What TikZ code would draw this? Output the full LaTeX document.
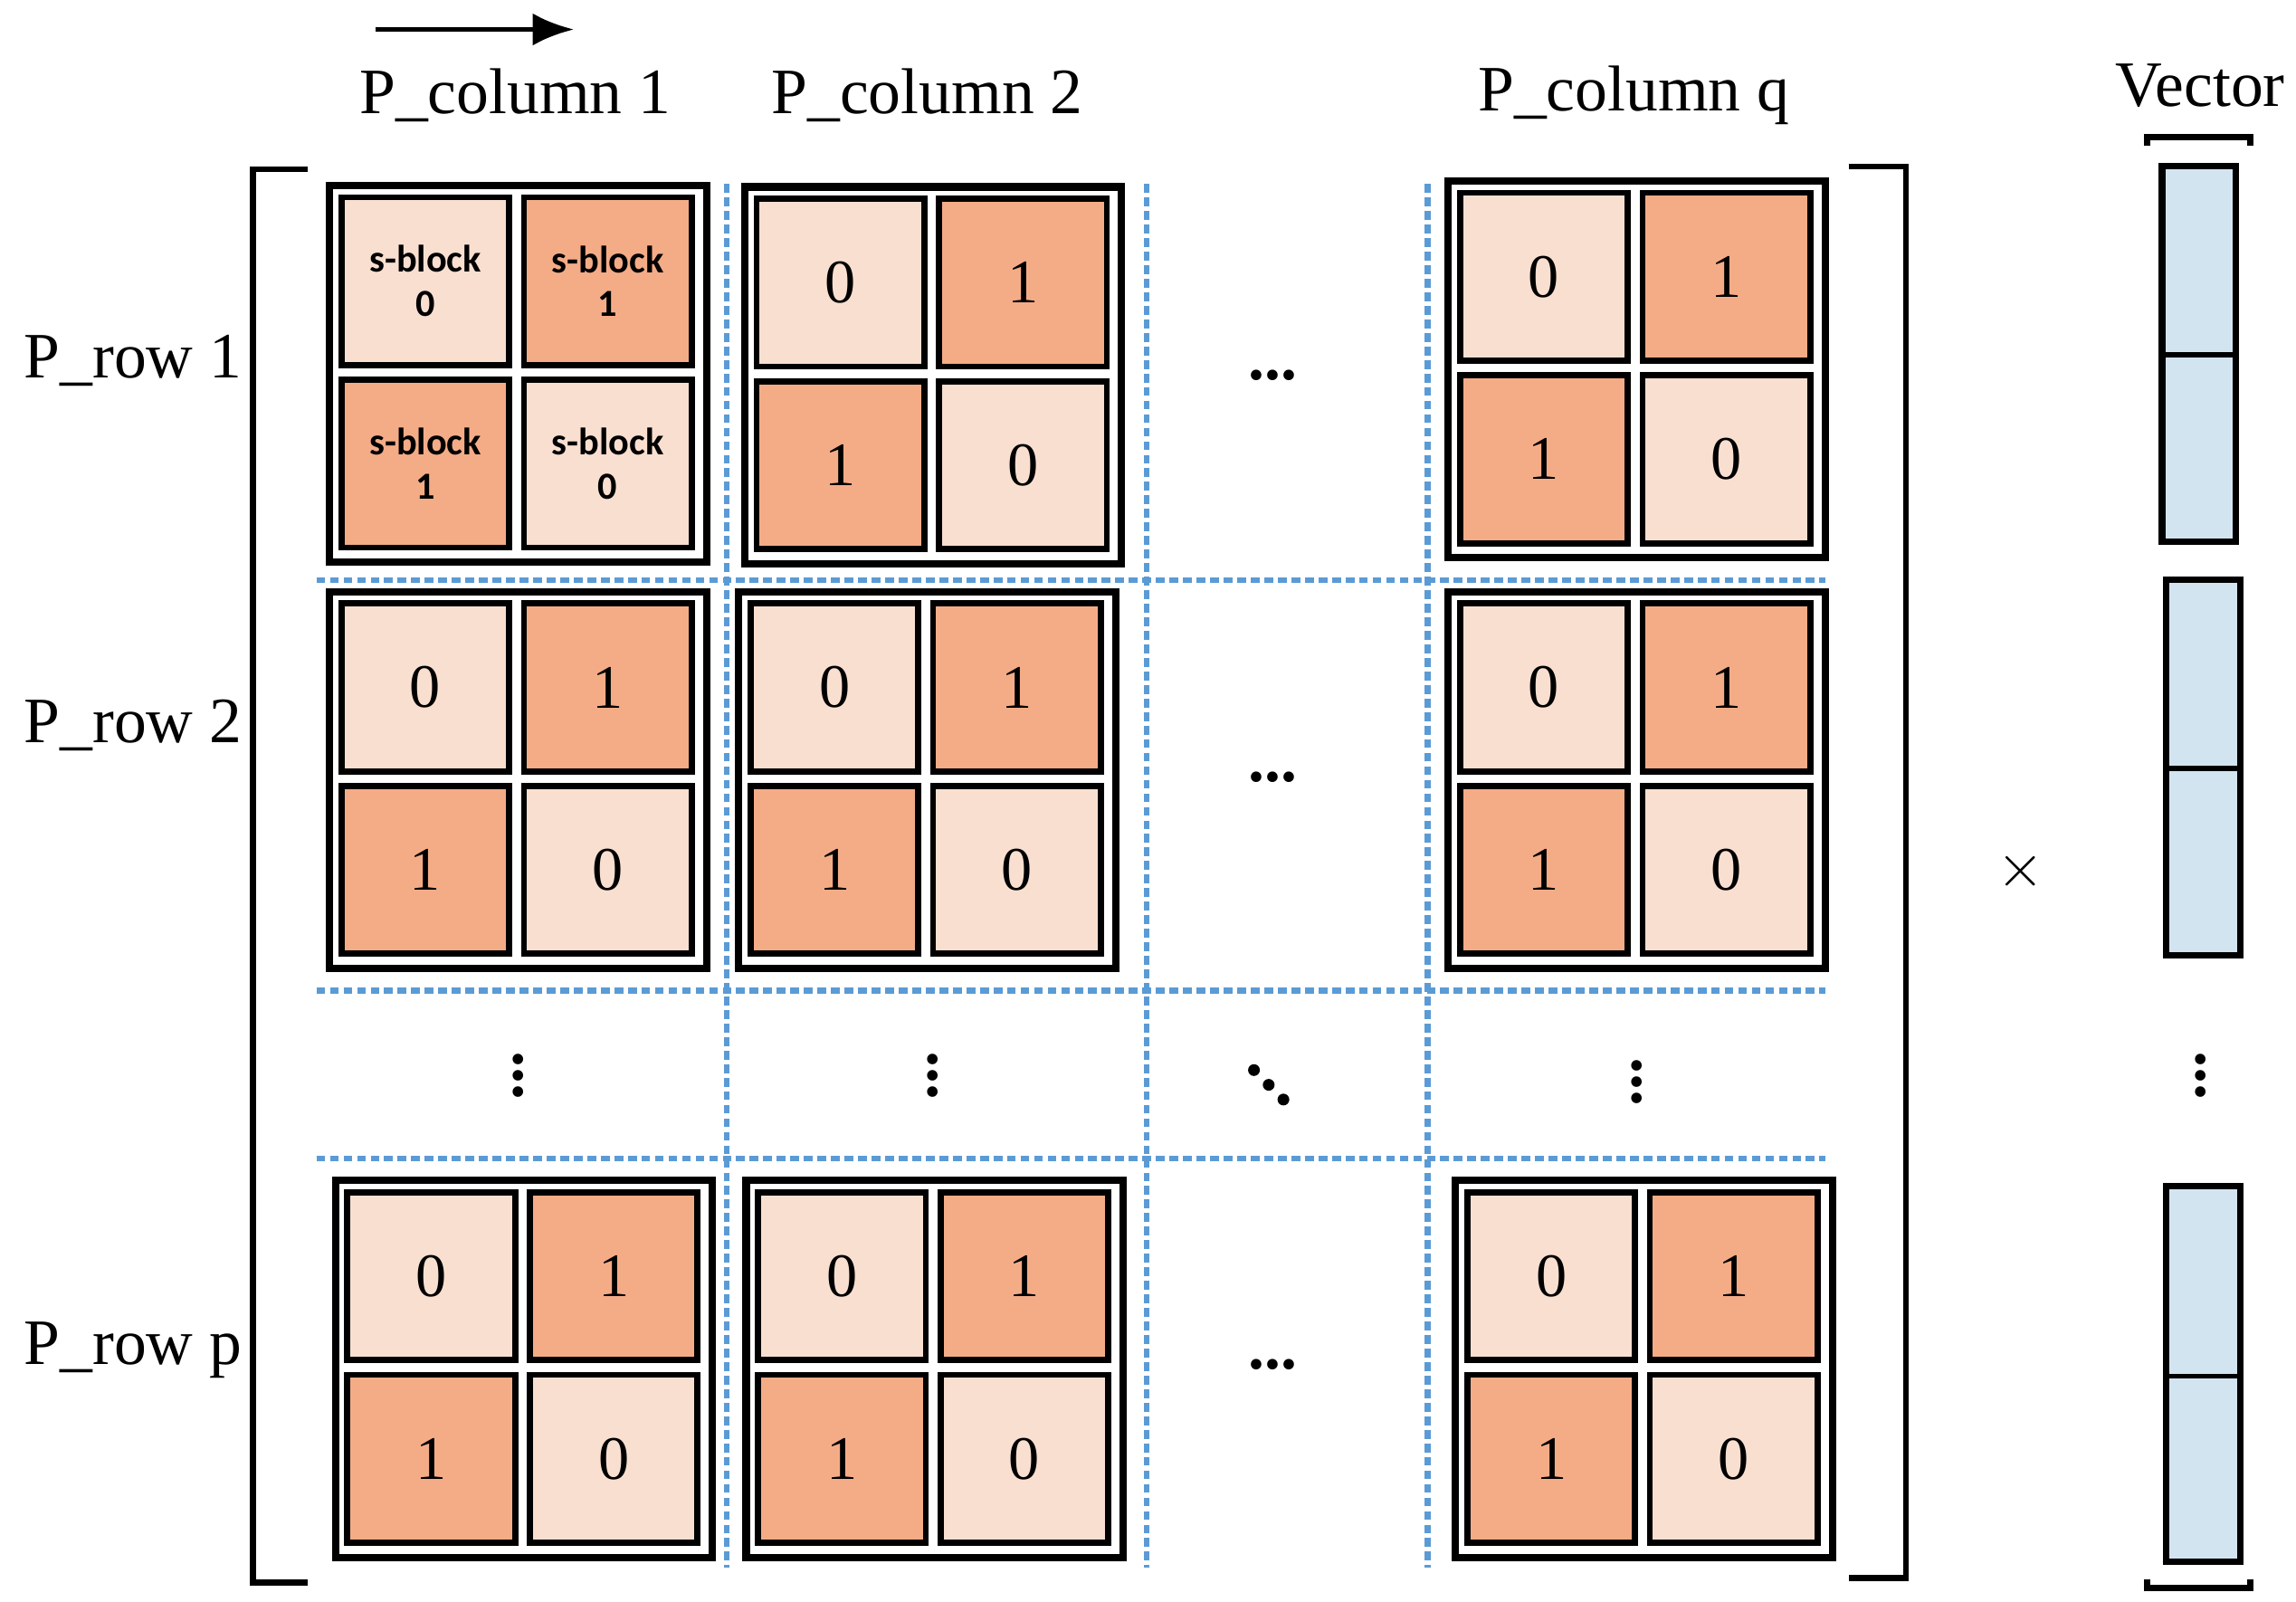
\documentclass[tikz,border=0pt]{standalone}
\usetikzlibrary{arrows.meta}
\usepackage{fontspec}
\setmainfont{Liberation Serif}
\newfontfamily\sbf{Carlito}
\definecolor{lt}{HTML}{F9DFD0}
\definecolor{dk}{HTML}{F4AC87}
\definecolor{vb}{HTML}{D3E4F1}
\definecolor{db}{HTML}{5B9BD5}
\tikzset{
 outer/.style={draw=black,line width=2.5pt,fill=white},
 sq/.style={draw=black,line width=2.1pt},
 dl/.style={draw=db,line width=1.9pt,dash pattern=on 3pt off 1.6pt},
 lbl/.style={font=\fontsize{22}{24}\selectfont,inner sep=0pt},
 num/.style={font=\fontsize{21}{22}\selectfont,inner sep=0pt},
 sb/.style={font=\sbf\bfseries\fontsize{13}{15}\selectfont,align=center,inner sep=0pt},
 br/.style={line width=2pt},
 vec/.style={draw=black,line width=2.2pt,fill=vb},
 dots/.style={font=\fontsize{22}{22}\selectfont\bfseries,inner sep=0pt}
}
\newcommand\myblk[3]{%
 \draw[outer] (#1,#2) rectangle ++(256,256);
 \draw[sq,fill=lt] (#1+8,#2+8) rectangle ++(114,114);
 \draw[sq,fill=dk] (#1+132,#2+8) rectangle ++(114,114);
 \draw[sq,fill=dk] (#1+8,#2+132) rectangle ++(114,114);
 \draw[sq,fill=lt] (#1+132,#2+132) rectangle ++(114,114);
 \ifx#3s
  \node[sb] at (#1+65,#2+65) {s-block\\0};
  \node[sb] at (#1+189,#2+65) {s-block\\1};
  \node[sb] at (#1+65,#2+189) {s-block\\1};
  \node[sb] at (#1+189,#2+189) {s-block\\0};
 \else
  \node[num] at (#1+65,#2+65) {0};
  \node[num] at (#1+189,#2+65) {1};
  \node[num] at (#1+65,#2+189) {1};
  \node[num] at (#1+189,#2+189) {0};
 \fi}
\begin{document}
\begin{tikzpicture}[x=0.5pt,y=-0.5pt]
\useasboundingbox (0,0) rectangle (1560,1088);
% dashed grid
\foreach \x in {494,779,970} \draw[dl] (\x,125) -- (\x,1065);
\foreach \y in {394,673,787} \draw[dl] (215,\y) -- (1240,\y);
% blocks
\myblk{224}{126}{s}
\myblk{506}{127}{n}
\myblk{984}{123}{n}
\myblk{224}{402}{n}
\myblk{502}{402}{n}
\myblk{984}{402}{n}
\myblk{228}{802}{n}
\myblk{507}{802}{n}
\myblk{989}{802}{n}
% brackets
\draw[br] (209,115) -- (172,115) -- (172,1075) -- (209,1075);
\draw[br] (1256,113) -- (1295,113) -- (1295,1072) -- (1256,1072);
\draw[line width=2.2pt] (1459,99) -- (1459,93) -- (1529,93) -- (1529,99);
\draw[line width=2.2pt] (1459,1073) -- (1459,1079) -- (1529,1079) -- (1529,1073);
% labels
\coordinate (a1) at (255,20); \coordinate (a2) at (390,20);
\draw[line width=1.8pt,-{Latex[length=14pt,width=11pt]}] (a1) -- (a2);
\node[lbl] (c1) at (350,65) {P\_column 1};
\node[lbl] (c2) at (630,65) {P\_column 2};
\node[lbl] (cq) at (1110,65) {P\_column q};
\node[lbl] (v) at (1495,58) {Vector};
\node[lbl,anchor=west] (r1) at (16,245) {P\_row 1};
\node[lbl,anchor=west] (r2) at (16,493) {P\_row 2};
\node[lbl,anchor=west] (rp) at (16,917) {P\_row p};
% dots
\foreach \y in {255,528,927} \node[dots] at (865,\y) {...};
\foreach \x/\y in {352/737,634/737,1112/741,1495/737} \node[dots,rotate=90] at (\x,\y-6) {...};
\foreach \d in {-10,0,10} \fill (862+\d,737+\d) circle (2pt);
\node[font=\fontsize{20}{20}\selectfont,inner sep=0pt] (t) at (1373,592) {$\times$};
% vector
\draw[vec] (1469,113) rectangle (1519,368); \draw[line width=1.6pt] (1469,241) -- (1519,241);
\draw[vec] (1472,394) rectangle (1522,649); \draw[line width=1.6pt] (1472,522) -- (1522,522);
\draw[vec] (1472,806) rectangle (1522,1061); \draw[line width=1.6pt] (1472,935) -- (1522,935);
\end{tikzpicture}
\end{document}
